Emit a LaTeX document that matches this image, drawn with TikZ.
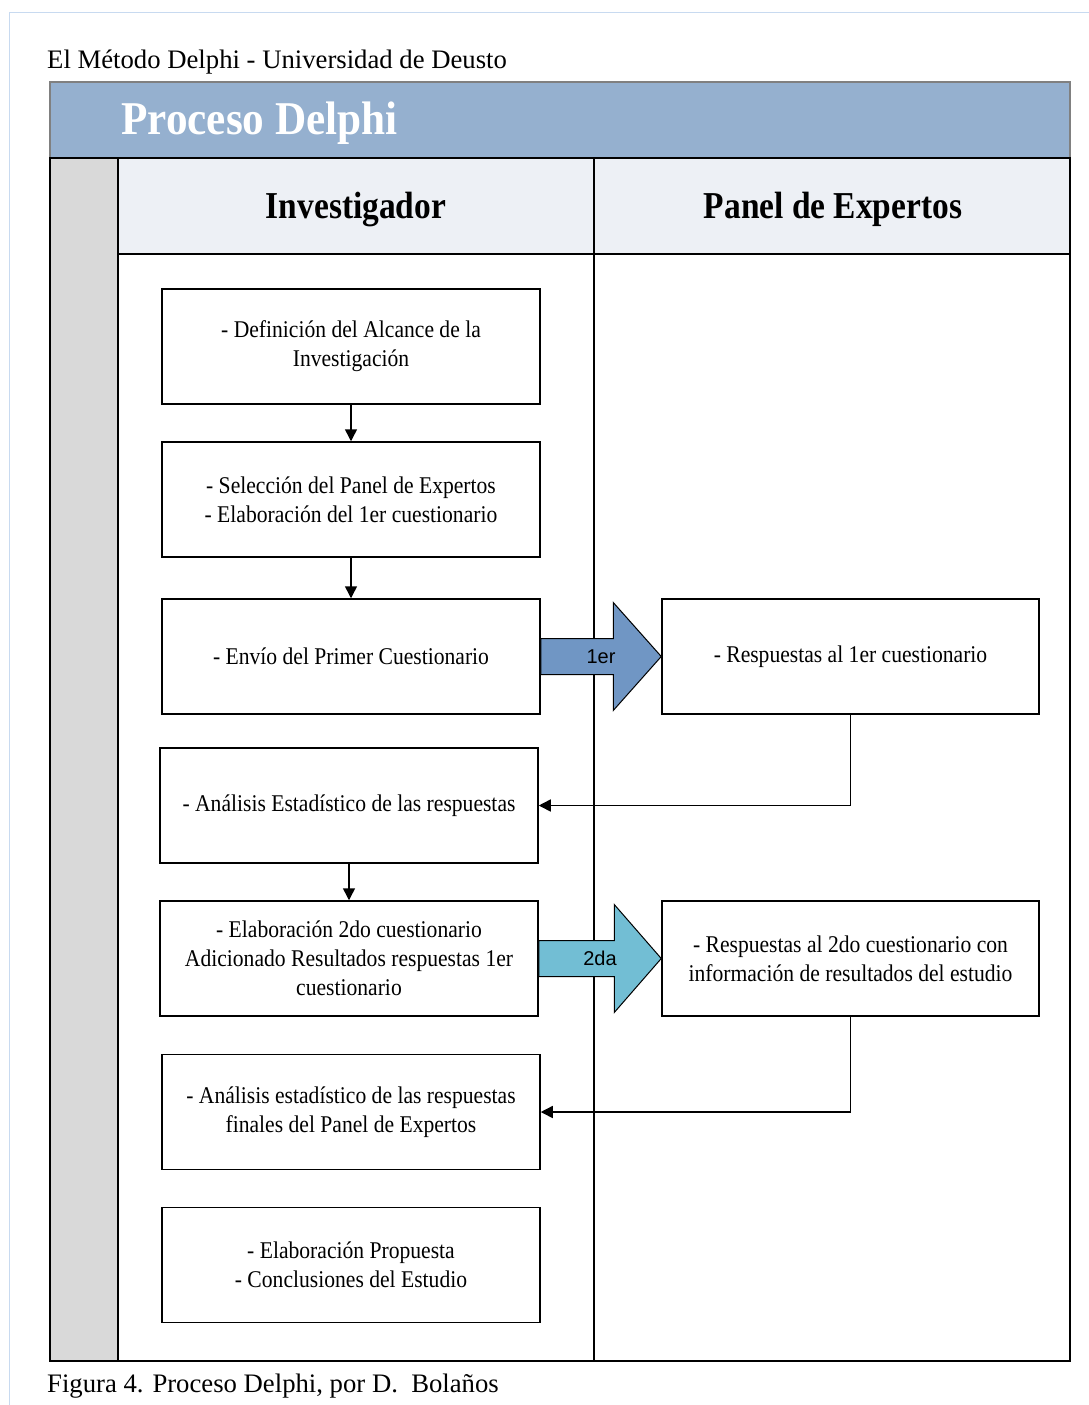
\documentclass[tikz,border=0pt]{standalone}
\usepackage{fontspec}
\setmainfont{Liberation Serif}
\setsansfont{Liberation Sans}
\newfontfamily\boxfont[FakeStretch=0.9]{Liberation Serif}
\newfontfamily\headfont[FakeStretch=0.88]{Liberation Serif}
\newfontfamily\poolfont[FakeStretch=0.92]{Liberation Serif}
\usetikzlibrary{arrows.meta,calc}

\definecolor{bandblue}{RGB}{149,176,207}
\definecolor{bandedge}{RGB}{128,128,128}
\definecolor{lanehead}{RGB}{237,240,245}
\definecolor{sidegray}{RGB}{217,217,217}
\definecolor{framecol}{RGB}{200,218,240}
\definecolor{arrowone}{RGB}{112,150,196}
\definecolor{arrowtwo}{RGB}{114,190,212}

\tikzset{
  lane/.style={draw=black, line width=2pt},
  stepbox/.style={draw=black, line width=1.5pt, fill=white, inner sep=0pt,
    minimum width=378pt, minimum height=115pt, align=center,
    font=\boxfont\fontsize{24}{29}\selectfont},
  conn/.style={draw=black, line width=1.5pt, -{Triangle[length=12pt,width=12pt]}},
  blockarrow/.style={draw=black, line width=1pt},
  arrowlabel/.style={inner sep=0pt, font=\sffamily\fontsize{20}{24}\selectfont},
  plaintext/.style={inner sep=0pt, anchor=base west, font=\fontsize{26.7}{32}\selectfont},
  lanetitle/.style={inner sep=0pt, anchor=base, font=\headfont\bfseries\fontsize{38}{44}\selectfont}
}

\begin{document}
\begin{tikzpicture}[x=1pt, y=-1pt]
\useasboundingbox (0,0) rectangle (1089,1405);

% thin page frame
\draw[framecol, line width=1pt] (9.5,1405) -- (9.5,12.5) -- (1089,12.5);

% titles above and below the pool
\node[plaintext] (title) at (47,68) {El Método Delphi - Universidad de Deusto};
\node[plaintext] (caption) at (47,1392) {Figura 4. Proceso Delphi, por D.\ \ Bolaños};

% pool header band
\fill[bandblue] (50,82) rectangle (1070,158);
\draw[bandedge, line width=1.5pt] (50,158) -- (50,82) -- (1070,82) -- (1070,158);
\node[inner sep=0pt, anchor=base west, text=white,
      font=\poolfont\bfseries\fontsize{47}{54}\selectfont] (pool) at (121,134) {Proceso Delphi};

% side column and lane headers
\fill[sidegray] (50,158) rectangle (118,1361);
\fill[lanehead] (118,158) rectangle (1070,254);
\draw[lane] (50,158) rectangle (1070,1361);
\draw[lane] (118,158) -- (118,1361);
\draw[lane] (594,158) -- (594,1361);
\draw[lane] (118,254) -- (1070,254);
\node[lanetitle] (laneA) at (356,218) {Investigador};
\node[lanetitle] (laneB) at (833,218) {Panel de Expertos};

% process steps
\node[stepbox] (b1) at (351,346.5) {- Definición del Alcance de la\\Investigación};
\node[stepbox] (b2) at (351,499.5) {- Selección del Panel de Expertos\\- Elaboración del 1er cuestionario};
\node[stepbox] (b3) at (351,656.5) {- Envío del Primer Cuestionario};
\node[stepbox] (b4) at (349,805.5) {- Análisis Estadístico de las respuestas};
\node[stepbox] (b5) at (349,958.5) {- Elaboración 2do cuestionario\\Adicionado Resultados respuestas 1er\\cuestionario};
\node[stepbox] (b6) at (351,1112) {- Análisis estadístico de las respuestas\\finales del Panel de Expertos};
\node[stepbox] (b7) at (351,1265) {- Elaboración Propuesta\\- Conclusiones del Estudio};
\node[stepbox, minimum width=377pt] (r1) at (850.5,656.5) {- Respuestas al 1er cuestionario};
\node[stepbox, minimum width=377pt] (r2) at (850.5,958.5) {- Respuestas al 2do cuestionario con\\información de resultados del estudio};

% connectors
\draw[conn] (b1) -- (b2);
\draw[conn] (b2) -- (b3);
\draw[conn] (b4) -- (b5);
\draw[conn] (r1.south) |- (b4.east);
\draw[conn] (r2.south) |- (b6.east);

% block arrows between the lanes
\draw[blockarrow, fill=arrowone]
  ($(b3.east)+(0,-18)$) -- ($(r1.west)+(-48,-18)$) -- ($(r1.west)+(-48,-54)$)
  -- (r1.west) -- ($(r1.west)+(-48,54)$) -- ($(r1.west)+(-48,18)$)
  -- ($(b3.east)+(0,18)$) -- cycle;
\node[arrowlabel] (lab1) at ($(b3.east)!0.5!(r1.west)$) {1er};

\draw[blockarrow, fill=arrowtwo]
  ($(b5.east)+(0,-18)$) -- ($(r2.west)+(-47,-18)$) -- ($(r2.west)+(-47,-54)$)
  -- (r2.west) -- ($(r2.west)+(-47,54)$) -- ($(r2.west)+(-47,18)$)
  -- ($(b5.east)+(0,18)$) -- cycle;
\node[arrowlabel] (lab2) at ($(b5.east)!0.5!(r2.west)$) {2da};
\end{tikzpicture}
\end{document}
